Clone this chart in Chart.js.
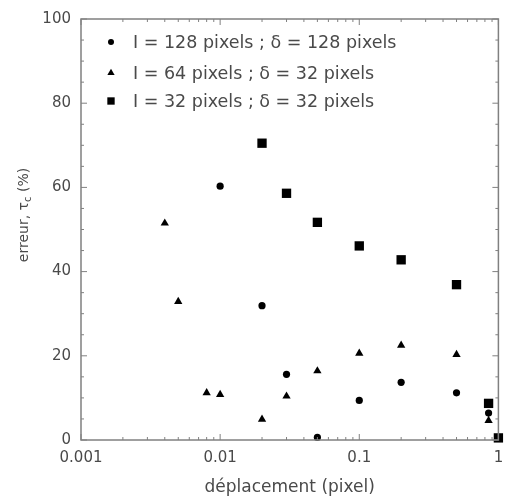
<!DOCTYPE html>
<html>
<head>
<meta charset="utf-8">
<script src="https://cdn.jsdelivr.net/npm/chart.js@4/dist/chart.umd.min.js"></script>
<style>
  html, body { margin: 0; padding: 0; background: #fff; }
  #wrap { width: 505px; height: 501px; }
</style>
</head>
<body>
<div id="wrap"><canvas id="c" width="505" height="501"></canvas></div>
<script>
const seriesLabels = [
  'I = 128 pixels ; δ = 128 pixels',
  'I = 64 pixels ; δ = 32 pixels',
  'I = 32 pixels ; δ = 32 pixels',
];
const pointStyles = ['circle', 'triangle', 'rect'];
const pointSizes = [3.6, 4.8, 6.6];

const xCircle = [0.01, 0.02, 0.03, 0.05, 0.1, 0.2, 0.5, 0.85];
const yCircle = [60.3, 31.9, 15.6, 0.6, 9.4, 13.7, 11.2, 6.4];

const xTriangle = [0.004, 0.005, 0.008, 0.01, 0.02, 0.03, 0.05, 0.1, 0.2, 0.5, 0.85];
const yTriangle = [51.5, 32.9, 11.2, 10.8, 4.9, 10.4, 16.4, 20.6, 22.5, 20.3, 4.6];

const xSquare = [0.02, 0.03, 0.05, 0.1, 0.2, 0.5, 0.85, 1];
const ySquare = [70.5, 58.6, 51.7, 46.1, 42.8, 36.9, 8.7, 0.5];

const xTicks = [0.001, 0.01, 0.1, 1];
const xTickLabels = ['0.001', '0.01', '0.1', '1'];
const yTicks = [0, 20, 40, 60, 80, 100];

const TEXT = '#4a4a4a';
const AXIS = '#808080';
const FONT = '"DejaVu Sans", sans-serif';

const pairs = (xs, ys) => xs.map((x, i) => ({ x, y: ys[i] }));
const allX = [xCircle, xTriangle, xSquare];
const allY = [yCircle, yTriangle, ySquare];

// frame + inward ticks on all four sides, x tick labels, y title with subscript, legend
const framePlugin = {
  id: 'frame',
  afterDraw(chart) {
    const { ctx, chartArea: a, scales } = chart;
    const xs = scales.x, ys = scales.y;
    ctx.save();
    ctx.strokeStyle = AXIS;
    ctx.lineWidth = 1.5;
    ctx.strokeRect(a.left, a.top, a.right - a.left, a.bottom - a.top);
    ctx.lineWidth = 1;
    ctx.beginPath();
    for (let d = 0.001; d < 1.5; d *= 10) {
      for (let m = 1; m <= 9; m++) {
        const v = d * m;
        if (v > 1.0001) break;
        const px = xs.getPixelForValue(v);
        const len = m === 1 ? 6 : 3;
        ctx.moveTo(px, a.bottom); ctx.lineTo(px, a.bottom - len);
        ctx.moveTo(px, a.top); ctx.lineTo(px, a.top + len);
      }
    }
    for (let v = 0; v <= 100; v += 5) {
      const py = ys.getPixelForValue(v);
      const len = v % 20 === 0 ? 6 : 3;
      ctx.moveTo(a.left, py); ctx.lineTo(a.left + len, py);
      ctx.moveTo(a.right, py); ctx.lineTo(a.right - len, py);
    }
    ctx.stroke();

    // x tick labels
    ctx.font = '15px ' + FONT;
    ctx.fillStyle = TEXT;
    ctx.textAlign = 'center';
    ctx.textBaseline = 'middle';
    xTicks.forEach((v, i) => ctx.fillText(xTickLabels[i], xs.getPixelForValue(v), a.bottom + 18));

    // y title: erreur, τc (%) with subscript c
    ctx.save();
    ctx.translate(24, 215);
    ctx.rotate(-Math.PI / 2);
    ctx.textAlign = 'left';
    ctx.textBaseline = 'middle';
    const big = '14px ' + FONT, small = '10px ' + FONT;
    const p1 = 'erreur, τ', p2 = 'c', p3 = ' (%)';
    ctx.font = big; const w1 = ctx.measureText(p1).width, w3 = ctx.measureText(p3).width;
    ctx.font = small; const w2 = ctx.measureText(p2).width;
    let x0 = -(w1 + w2 + w3) / 2;
    ctx.font = big; ctx.fillText(p1, x0, 0);
    ctx.font = small; ctx.fillText(p2, x0 + w1, 4);
    ctx.font = big; ctx.fillText(p3, x0 + w1 + w2, 0);
    ctx.restore();

    // legend
    ctx.font = '17.5px ' + FONT;
    ctx.textAlign = 'left';
    ctx.textBaseline = 'middle';
    const rows = [42, 73, 101];
    chart.data.datasets.forEach((ds, i) => {
      ctx.fillStyle = '#000';
      ctx.strokeStyle = '#000';
      Chart.helpers.drawPoint(ctx, { pointStyle: ds.pointStyle, radius: i === 2 ? 5.2 : ds.pointRadius - 0.6, borderWidth: 0 }, 111, rows[i]);
      ctx.fillStyle = TEXT;
      ctx.fillText(ds.label, 133, rows[i] + 1);
    });
    ctx.restore();
  }
};

new Chart(document.getElementById('c'), {
  type: 'scatter',
  data: {
    datasets: seriesLabels.map((label, i) => ({
      label,
      data: pairs(allX[i], allY[i]),
      pointStyle: pointStyles[i],
      pointRadius: pointSizes[i],
      pointBackgroundColor: '#000',
      pointBorderColor: '#000',
      pointBorderWidth: 0,
      clip: false,
    })),
  },
  options: {
    responsive: false,
    animation: false,
    layout: { padding: { left: 0, right: 4, top: 18, bottom: 0 } },
    plugins: { legend: { display: false }, tooltip: { enabled: false } },
    scales: {
      x: {
        type: 'logarithmic',
        min: 0.001,
        max: 1,
        afterBuildTicks: s => { s.ticks = xTicks.map(v => ({ value: v })); },
        afterFit: s => { s.height = 61; s.paddingLeft = 0; s.paddingRight = 0; },
        grid: { display: false, drawTicks: false },
        border: { display: false },
        ticks: { display: false },
        title: {
          display: true,
          text: 'déplacement (pixel)',
          color: TEXT,
          font: { family: FONT, size: 17 },
          padding: { top: 5, bottom: 3 },
        },
      },
      y: {
        min: 0,
        max: 100,
        afterBuildTicks: s => { s.ticks = yTicks.map(v => ({ value: v })); },
        afterFit: s => { s.width = 81; },
        grid: { display: false, drawTicks: false },
        border: { display: false },
        ticks: {
          color: TEXT,
          font: { family: FONT, size: 15 },
          padding: 10,
        },
      },
    },
  },
  plugins: [framePlugin],
});
</script>
</body>
</html>
